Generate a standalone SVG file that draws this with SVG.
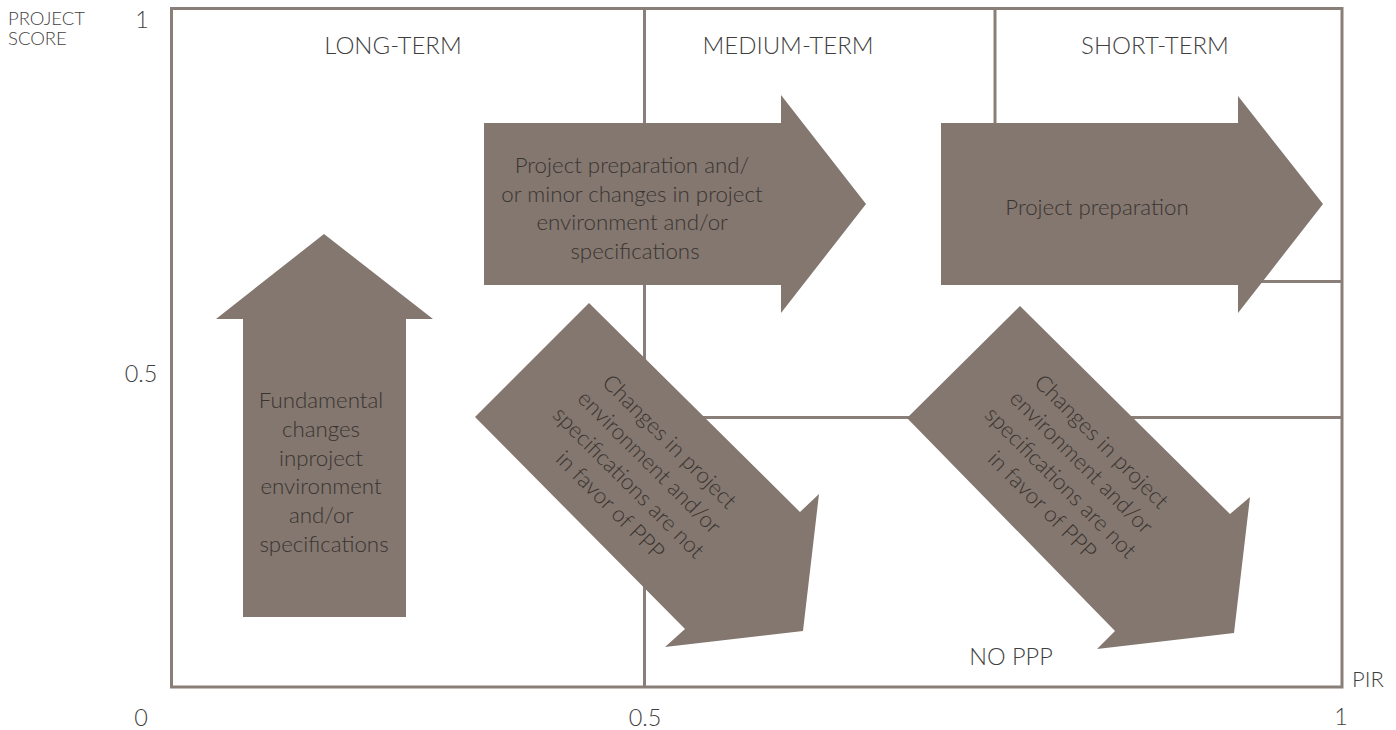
<svg xmlns="http://www.w3.org/2000/svg" width="1396" height="730" viewBox="0 0 1396 730">
  <style>
    .grid { stroke: #8a7f78; stroke-width: 3; fill: none; }
    .arrow { fill: #83776f; }
    .lbl { font-family: "Lato", "Open Sans", "Liberation Sans", sans-serif; font-weight: 300; fill: #3f3f3f; }
    .axis { font-size: 23.5px; }
    .axt { font-size: 18.5px; }
    .pir { font-size: 22px; }
    .hdr { font-size: 24px; text-anchor: middle; }
    .body { font-family: "Lato", "Open Sans", "Liberation Sans", sans-serif; font-weight: 300; font-size: 22.3px; fill: #3a3431; text-anchor: middle; }
  </style>

  <!-- chart grid: frame and quadrant dividers -->
  <g id="grid" class="grid">
    <line x1="644.5" y1="9" x2="644.5" y2="687"/>
    <line x1="995" y1="9" x2="995" y2="124"/>
    <line x1="1236" y1="281.5" x2="1342" y2="281.5"/>
    <line x1="645" y1="417.5" x2="1342" y2="417.5"/>
    <rect x="171.5" y="8.5" width="1170.5" height="678.5"/>
  </g>

  <!-- axis labels -->
  <g id="axes" class="lbl">
    <text class="axt" x="8" y="25">PROJECT</text>
    <text class="axt" x="8" y="45">SCORE</text>
    <text class="axis" x="142" y="28" text-anchor="middle">1</text>
    <text class="axis" x="141" y="382" text-anchor="middle">0.5</text>
    <text class="axis" x="141" y="726" text-anchor="middle">0</text>
    <text class="axis" x="645" y="726" text-anchor="middle">0.5</text>
    <text class="axis" x="1341" y="725" text-anchor="middle">1</text>
    <text class="pir" x="1352" y="687">PIR</text>
  </g>

  <!-- horizon headers -->
  <g id="headers" class="lbl">
    <text class="hdr" x="393" y="54">LONG-TERM</text>
    <text class="hdr" x="788" y="54">MEDIUM-TERM</text>
    <text class="hdr" x="1155" y="54">SHORT-TERM</text>
    <text class="lbl" x="1011" y="665" font-size="23.5" text-anchor="middle">NO PPP</text>
  </g>

  <!-- fundamental changes: upward arrow -->
  <g id="fundamental">
    <polygon class="arrow" points="324,234 433,319 406,319 406,617 243,617 243,319 216,319"/>
    <text class="body">
      <tspan x="324" y="408">Fundamental</tspan>
      <tspan x="324" y="437">changes</tspan>
      <tspan x="324" y="466">inproject</tspan>
      <tspan x="324" y="494">environment</tspan>
      <tspan x="324" y="523">and/or</tspan>
      <tspan x="324" y="552">specifications</tspan>
    </text>
  </g>

  <!-- medium-term: preparation / minor changes -->
  <g id="medium">
    <polygon class="arrow" points="484,123 781,123 781,95 866,204 781,313 781,285 484,285"/>
    <text class="body">
      <tspan x="635" y="173">Project preparation and/</tspan>
      <tspan x="635" y="202">or minor changes in project</tspan>
      <tspan x="635" y="230">environment and/or</tspan>
      <tspan x="635" y="259">specifications</tspan>
    </text>
  </g>

  <!-- short-term: preparation -->
  <g id="short">
    <polygon class="arrow" points="941,123 1238,123 1238,96 1323,204 1238,313 1238,285 941,285"/>
    <text class="body" x="1097" y="215">Project preparation</text>
  </g>

  <!-- unfavourable changes, medium-term -->
  <g id="unfavourable-medium">
    <polygon class="arrow" points="589,303 800,512 819,494 803,631 665,647 685,629 475,417"/>
    <g transform="translate(641,474.5) rotate(45)">
      <text class="body">
        <tspan x="0" y="-36">Changes in project</tspan>
        <tspan x="0" y="-7">environment and/or</tspan>
        <tspan x="0" y="22">specifications are not</tspan>
        <tspan x="0" y="51">in favor of PPP</tspan>
      </text>
    </g>
  </g>

  <!-- unfavourable changes, short-term -->
  <g id="unfavourable-short">
    <polygon class="arrow" points="1020,306 1230,514 1250,497 1234,633 1097,649 1115,631 907,418"/>
    <g transform="translate(1073,474.5) rotate(45)">
      <text class="body">
        <tspan x="0" y="-36">Changes in project</tspan>
        <tspan x="0" y="-7">environment and/or</tspan>
        <tspan x="0" y="22">specifications are not</tspan>
        <tspan x="0" y="51">in favor of PPP</tspan>
      </text>
    </g>
  </g>
</svg>
